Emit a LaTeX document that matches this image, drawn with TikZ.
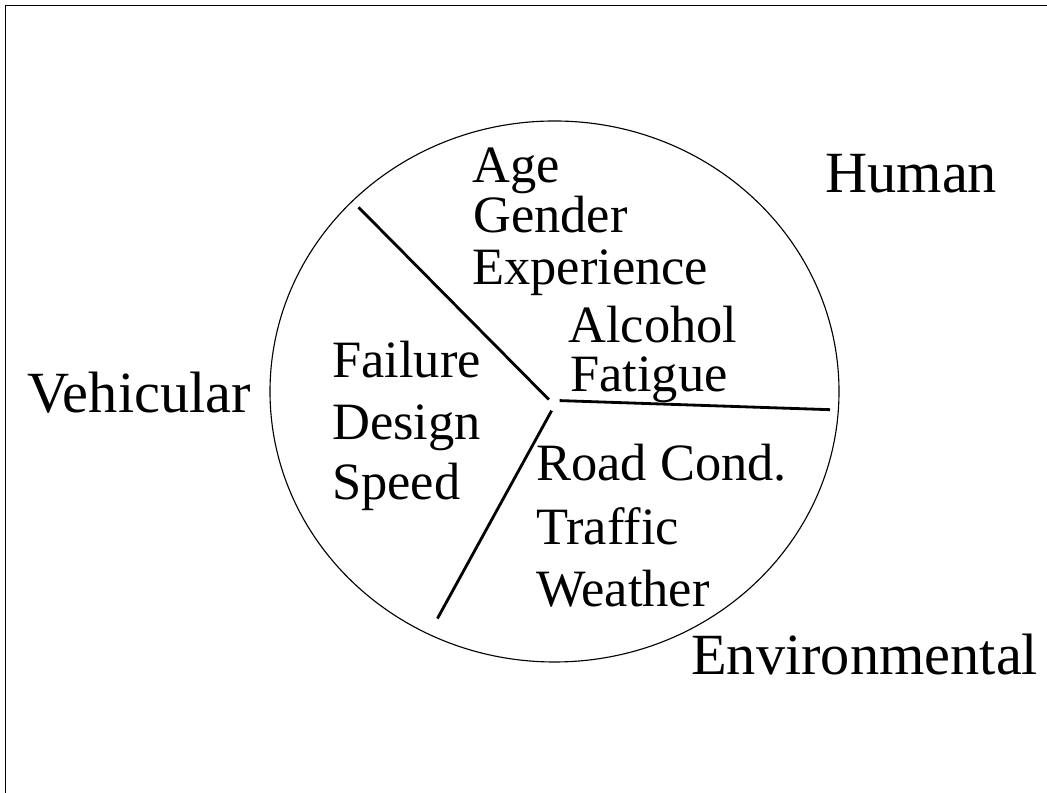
\documentclass[tikz,border=0pt]{standalone}
\usepackage{fontspec}
\setmainfont{Liberation Serif}
\tikzset{
  outerlabel/.style={anchor=base west, inner sep=0pt, font=\fontsize{41.5}{48}\selectfont},
  innerlabel/.style={anchor=base west, inner sep=0pt, font=\fontsize{37.3}{44}\selectfont},
  spoke/.style={line width=2pt},
}
\begin{document}
\begin{tikzpicture}[x=0.025cm,y=0.025cm]
\useasboundingbox (0,0) rectangle (1047,793);
\draw[line width=1.2pt] (5.5,0) -- (5.5,787.5) -- (1047,787.5);
\draw[line width=0.8pt] (554.5,401.5) ellipse [x radius=284.5, y radius=270.5];

% spokes
\coordinate (hubH) at (548.9,393.4);
\coordinate (rimH) at (358.6,585.6);
\coordinate (hubE) at (559.6,392.4);
\coordinate (rimE) at (830,383.3);
\coordinate (hubV) at (551.6,382.3);
\coordinate (rimV) at (437.4,174.4);
\draw[spoke] (rimH) -- (hubH);
\draw[spoke] (hubE) -- (rimE);
\draw[spoke] (hubV) -- (rimV);

% outer labels
\node[outerlabel] (human) at (825,600) {Human};
\node[outerlabel] (vehicular) at (27,380) {Vehicular};
\node[outerlabel] (environmental) at (691,118) {Environmental};

% inner labels
\node[innerlabel] (age) at (472,610) {Age};
\node[innerlabel] (gender) at (473,560) {Gender};
\node[innerlabel] (experience) at (472,508) {Experience};
\node[innerlabel] (alcohol) at (568,450) {Alcohol};
\node[innerlabel] (fatigue) at (570,401) {Fatigue};
\node[innerlabel] (failure) at (332,415) {Failure};
\node[innerlabel] (design) at (332,353) {Design};
\node[innerlabel] (speed) at (332,293) {Speed};
\node[innerlabel] (road) at (536,312) {Road Cond.};
\node[innerlabel] (traffic) at (536,248) {Traffic};
\node[innerlabel] (weather) at (536,186) {Weather};
\end{tikzpicture}
\end{document}
